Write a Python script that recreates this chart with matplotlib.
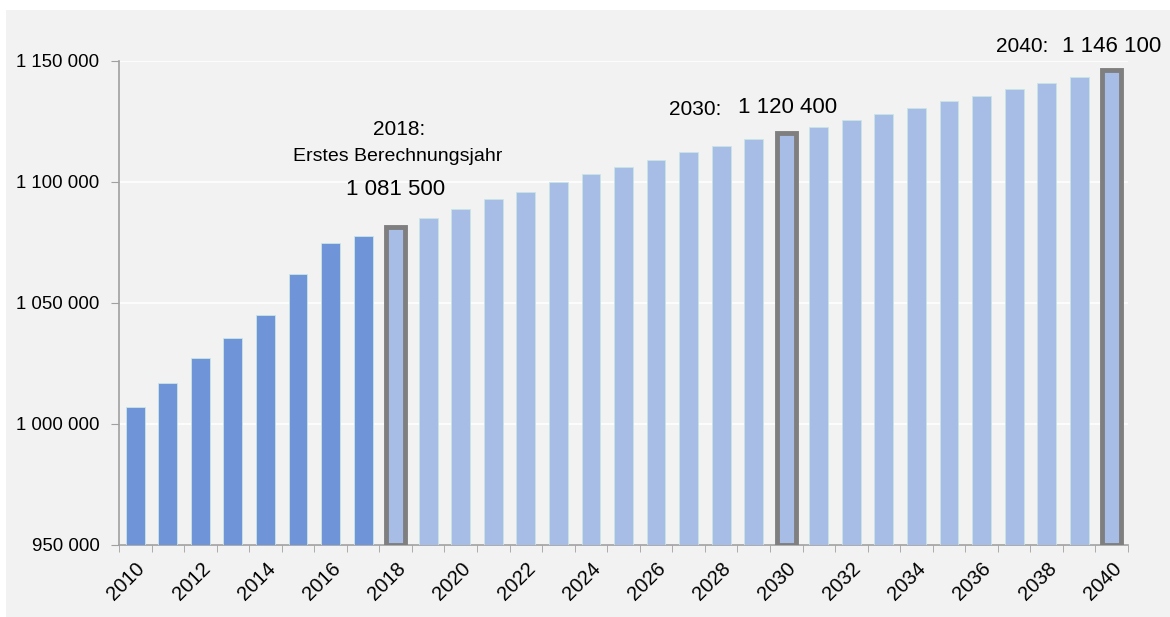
import matplotlib.pyplot as plt
from matplotlib.patches import Rectangle

plt.rcParams['font.family'] = ['Liberation Sans', 'DejaVu Sans']

# years and population values
years = list(range(2010, 2041))
values = [1007000, 1016900, 1027300, 1035500, 1045000, 1062000, 1074800, 1077700,
          1081500, 1085100, 1088800, 1093000, 1095900, 1100000, 1103300, 1106200,
          1109100, 1112400, 1114900, 1117800, 1120400, 1122700, 1125600, 1128100,
          1130600, 1133500, 1135500, 1138400, 1140900, 1143400, 1146100]
first_projection = 2018
highlight_years = [2018, 2030, 2040]
yticks = [950000, 1000000, 1050000, 1100000, 1150000]

hist_color = '#7094d8'
proj_color = '#a8bde6'
grey_bg = '#f2f2f2'

fig = plt.figure(figsize=(11.7, 6.17), dpi=100, facecolor='white')
fig.patches.append(Rectangle((6 / 1170, 0), 1, (617 - 10) / 617, transform=fig.transFigure,
                             facecolor=grey_bg, edgecolor='none', zorder=-10))
ax = fig.add_axes([119 / 1170, 1 - 545 / 617, (1128 - 119) / 1170, (545 - 61) / 617])
ax.set_facecolor(grey_bg)

x = list(range(len(years)))
colors = [hist_color if y < first_projection else proj_color for y in years]
ax.bar(x, [v - 950000 for v in values], bottom=950000, width=0.58, color=colors,
       edgecolor='#c8e6e6', linewidth=0.6, zorder=3)

# highlighted bars with grey frame
for y in highlight_years:
    i = years.index(y)
    ax.bar(i, values[i] - 950000, bottom=950000, width=0.58, color='none',
           edgecolor='#7f7f7f', linewidth=3.5, zorder=4)

ax.set_xlim(-0.5, len(years) - 0.5)
ax.set_ylim(950000, 1150000)
ax.set_yticks(yticks)
ax.set_yticklabels(['{:,}'.format(v).replace(',', ' ') for v in yticks], fontsize=13.4)
ax.yaxis.grid(True, color='white', linewidth=1.2, zorder=0)

# x labels every second year, ticks between bars
ax.set_xticks(x[::2])
ax.set_xticklabels([str(y) for y in years[::2]], rotation=45, ha='right',
                   rotation_mode='anchor', fontsize=14.5)
ax.tick_params(axis='x', length=0, pad=10)
ax.set_xticks([i - 0.5 for i in range(len(years) + 1)], minor=True)
ax.tick_params(axis='x', which='minor', length=5, color='#a0a0a0')
ax.tick_params(axis='y', length=6, color='#a0a0a0', pad=8)

for s in ['top', 'right']:
    ax.spines[s].set_visible(False)
for s in ['left', 'bottom']:
    ax.spines[s].set_color('#a0a0a0')
    ax.spines[s].set_linewidth(1.2)

# annotations
ax.text(8.1, 1121500, '2018:', ha='center', va='center', fontsize=15)
ax.text(8.05, 1110700, 'Erstes Berechnungsjahr', ha='center', va='center', fontsize=14)
ax.text(8.0, 1096700, '1 081 500', ha='center', va='center', fontsize=16)
ax.text(17.2, 1129800, '2030:', ha='center', va='center', fontsize=15)
ax.text(20.05, 1130600, '1 120 400', ha='center', va='center', fontsize=16)
ax.text(27.25, 1155800, '2040:', ha='center', va='center', fontsize=15, clip_on=False)
ax.text(30.0, 1155800, '1 146 100', ha='center', va='center', fontsize=16, clip_on=False)

fig.savefig('out.png', dpi=100, facecolor=fig.get_facecolor())
